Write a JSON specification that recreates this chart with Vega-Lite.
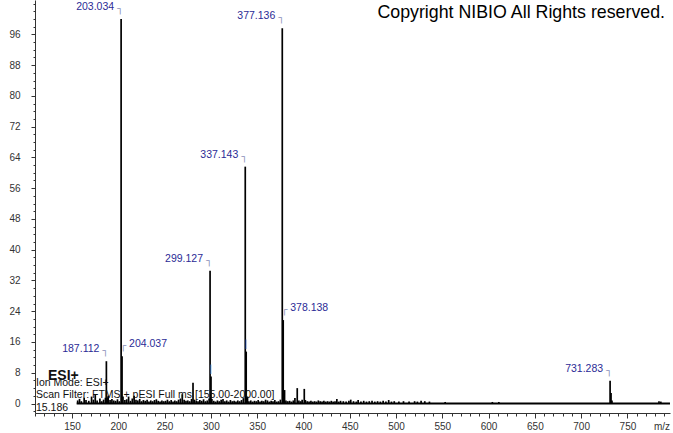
{
  "$schema": "https://vega.github.io/schema/vega-lite/v6.json",
  "width": 635,
  "height": 413,
  "autosize": {"type": "none"},
  "padding": {"left": 35, "top": 0, "right": 3, "bottom": 20},
  "background": "white",
  "config": {"view": {"stroke": null}, "font": "Liberation Sans"},
  "datasets": {
    "peaks": [
      {"mz": 156.1, "intensity": 0.8}, {"mz": 158.1, "intensity": 1.2}, {"mz": 160.1, "intensity": 0.6}, {"mz": 163.1, "intensity": 1.5},
      {"mz": 165.1, "intensity": 0.9}, {"mz": 168.1, "intensity": 0.7}, {"mz": 171.1, "intensity": 1.8}, {"mz": 173.1, "intensity": 1.0},
      {"mz": 175.1, "intensity": 2.2}, {"mz": 177.1, "intensity": 0.8}, {"mz": 180.1, "intensity": 1.3}, {"mz": 182.1, "intensity": 0.6},
      {"mz": 184.1, "intensity": 1.0}, {"mz": 186.1, "intensity": 1.5}, {"mz": 187.112, "intensity": 11.0}, {"mz": 188.1, "intensity": 1.6},
      {"mz": 189.1, "intensity": 2.0}, {"mz": 191.1, "intensity": 0.9}, {"mz": 193.1, "intensity": 1.2}, {"mz": 195.1, "intensity": 0.8},
      {"mz": 197.1, "intensity": 0.7}, {"mz": 199.1, "intensity": 1.1}, {"mz": 201.1, "intensity": 0.6}, {"mz": 203.034, "intensity": 100.0},
      {"mz": 204.037, "intensity": 12.3}, {"mz": 205.04, "intensity": 1.8}, {"mz": 207.1, "intensity": 0.9}, {"mz": 209.1, "intensity": 1.1},
      {"mz": 211.1, "intensity": 1.8}, {"mz": 213.1, "intensity": 0.7}, {"mz": 215.1, "intensity": 1.3}, {"mz": 217.1, "intensity": 2.0},
      {"mz": 219.1, "intensity": 1.0}, {"mz": 221.1, "intensity": 0.8}, {"mz": 223.1, "intensity": 1.2}, {"mz": 225.1, "intensity": 0.6},
      {"mz": 227.1, "intensity": 0.9}, {"mz": 229.1, "intensity": 0.7}, {"mz": 231.1, "intensity": 1.0}, {"mz": 233.1, "intensity": 0.5},
      {"mz": 235.1, "intensity": 0.8}, {"mz": 237.1, "intensity": 0.6}, {"mz": 239.1, "intensity": 0.9}, {"mz": 241.1, "intensity": 1.1},
      {"mz": 243.1, "intensity": 0.7}, {"mz": 245.1, "intensity": 0.5}, {"mz": 247.1, "intensity": 0.8}, {"mz": 249.1, "intensity": 0.6},
      {"mz": 251.1, "intensity": 0.7}, {"mz": 253.1, "intensity": 1.0}, {"mz": 255.1, "intensity": 0.6}, {"mz": 257.1, "intensity": 0.9},
      {"mz": 259.1, "intensity": 0.5}, {"mz": 261.1, "intensity": 0.8}, {"mz": 263.1, "intensity": 0.6}, {"mz": 265.1, "intensity": 1.0},
      {"mz": 267.1, "intensity": 1.3}, {"mz": 269.1, "intensity": 2.4}, {"mz": 271.1, "intensity": 1.0}, {"mz": 273.1, "intensity": 0.7},
      {"mz": 275.1, "intensity": 0.8}, {"mz": 277.1, "intensity": 0.6}, {"mz": 279.1, "intensity": 1.2}, {"mz": 280.7, "intensity": 5.4},
      {"mz": 282.1, "intensity": 1.0}, {"mz": 284.1, "intensity": 0.8}, {"mz": 286.1, "intensity": 0.6}, {"mz": 288.1, "intensity": 0.9},
      {"mz": 290.1, "intensity": 0.7}, {"mz": 292.1, "intensity": 1.1}, {"mz": 294.1, "intensity": 0.6}, {"mz": 296.1, "intensity": 0.8},
      {"mz": 298.1, "intensity": 1.3}, {"mz": 299.127, "intensity": 34.5}, {"mz": 300.13, "intensity": 7.0}, {"mz": 301.1, "intensity": 1.2},
      {"mz": 303.1, "intensity": 0.7}, {"mz": 305.1, "intensity": 0.5}, {"mz": 307.1, "intensity": 0.8}, {"mz": 309.1, "intensity": 0.6},
      {"mz": 311.1, "intensity": 1.0}, {"mz": 313.1, "intensity": 1.2}, {"mz": 315.1, "intensity": 0.6}, {"mz": 317.1, "intensity": 0.8},
      {"mz": 319.1, "intensity": 0.5}, {"mz": 321.1, "intensity": 0.9}, {"mz": 323.1, "intensity": 0.6}, {"mz": 325.1, "intensity": 0.7},
      {"mz": 327.1, "intensity": 0.5}, {"mz": 329.1, "intensity": 0.8}, {"mz": 331.1, "intensity": 0.6}, {"mz": 333.1, "intensity": 0.9},
      {"mz": 335.1, "intensity": 1.4}, {"mz": 337.143, "intensity": 61.6}, {"mz": 338.146, "intensity": 13.5}, {"mz": 339.6, "intensity": 1.8},
      {"mz": 341.1, "intensity": 0.6}, {"mz": 343.1, "intensity": 0.8}, {"mz": 345.1, "intensity": 0.5}, {"mz": 347.1, "intensity": 0.7},
      {"mz": 349.1, "intensity": 0.6}, {"mz": 351.1, "intensity": 0.9}, {"mz": 353.1, "intensity": 0.5}, {"mz": 355.1, "intensity": 0.7},
      {"mz": 357.1, "intensity": 0.6}, {"mz": 359.1, "intensity": 1.0}, {"mz": 361.1, "intensity": 0.8}, {"mz": 363.1, "intensity": 0.5},
      {"mz": 365.1, "intensity": 0.7}, {"mz": 367.1, "intensity": 0.6}, {"mz": 369.1, "intensity": 0.9}, {"mz": 371.1, "intensity": 0.5},
      {"mz": 373.1, "intensity": 0.6}, {"mz": 375.1, "intensity": 1.0}, {"mz": 377.136, "intensity": 97.6}, {"mz": 378.138, "intensity": 21.7},
      {"mz": 379.6, "intensity": 3.5}, {"mz": 381.1, "intensity": 0.8}, {"mz": 383.1, "intensity": 0.6}, {"mz": 385.1, "intensity": 0.7},
      {"mz": 387.1, "intensity": 0.5}, {"mz": 389.1, "intensity": 0.8}, {"mz": 390.8, "intensity": 1.4}, {"mz": 393.3, "intensity": 4.0},
      {"mz": 395.1, "intensity": 0.8}, {"mz": 397.1, "intensity": 0.6}, {"mz": 398.6, "intensity": 1.0}, {"mz": 400.9, "intensity": 3.8},
      {"mz": 402.1, "intensity": 0.9}, {"mz": 404.1, "intensity": 0.6}, {"mz": 406.1, "intensity": 0.5}, {"mz": 408.1, "intensity": 0.7},
      {"mz": 410.1, "intensity": 0.5}, {"mz": 412.1, "intensity": 0.6}, {"mz": 414.1, "intensity": 0.5}, {"mz": 416.1, "intensity": 0.8},
      {"mz": 418.1, "intensity": 0.6}, {"mz": 420.1, "intensity": 0.5}, {"mz": 422.1, "intensity": 0.7}, {"mz": 424.1, "intensity": 0.5},
      {"mz": 426.1, "intensity": 0.6}, {"mz": 428.1, "intensity": 0.5}, {"mz": 430.1, "intensity": 0.7}, {"mz": 432.1, "intensity": 0.5},
      {"mz": 434.1, "intensity": 0.6}, {"mz": 436.1, "intensity": 1.2}, {"mz": 438.1, "intensity": 0.5}, {"mz": 440.1, "intensity": 0.7},
      {"mz": 443.1, "intensity": 0.6}, {"mz": 446.1, "intensity": 0.5}, {"mz": 449.1, "intensity": 0.7}, {"mz": 451.1, "intensity": 1.0},
      {"mz": 454.1, "intensity": 0.6}, {"mz": 457.1, "intensity": 0.5}, {"mz": 459.1, "intensity": 0.9}, {"mz": 462.1, "intensity": 0.5},
      {"mz": 465.1, "intensity": 0.7}, {"mz": 468.1, "intensity": 0.5}, {"mz": 471.1, "intensity": 0.6}, {"mz": 474.1, "intensity": 0.7},
      {"mz": 477.1, "intensity": 0.5}, {"mz": 480.1, "intensity": 0.6}, {"mz": 483.1, "intensity": 0.5}, {"mz": 486.1, "intensity": 0.7},
      {"mz": 489.1, "intensity": 0.5}, {"mz": 492.1, "intensity": 0.9}, {"mz": 495.1, "intensity": 0.5}, {"mz": 498.1, "intensity": 0.6},
      {"mz": 503.1, "intensity": 0.5}, {"mz": 508.1, "intensity": 0.6}, {"mz": 514.1, "intensity": 0.5}, {"mz": 520.1, "intensity": 0.6},
      {"mz": 523.1, "intensity": 0.5}, {"mz": 527.1, "intensity": 0.7}, {"mz": 531.1, "intensity": 0.6}, {"mz": 536.1, "intensity": 0.5},
      {"mz": 553.1, "intensity": 0.4}, {"mz": 604.1, "intensity": 0.4}, {"mz": 611.1, "intensity": 0.4}, {"mz": 731.283, "intensity": 5.9},
      {"mz": 732.29, "intensity": 2.7}, {"mz": 733.3, "intensity": 0.8}, {"mz": 784.1, "intensity": 0.6}, {"mz": 786.1, "intensity": 0.5}
    ],
    "labels": [
      {"mz": 187.112, "intensity": 11.0, "label": "187.112"},
      {"mz": 203.034, "intensity": 100.0, "label": "203.034"},
      {"mz": 204.037, "intensity": 12.3, "label": "204.037"},
      {"mz": 299.127, "intensity": 34.5, "label": "299.127"},
      {"mz": 300.13, "intensity": 7.0, "label": ""},
      {"mz": 337.143, "intensity": 61.6, "label": "337.143"},
      {"mz": 338.146, "intensity": 13.5, "label": ""},
      {"mz": 377.136, "intensity": 97.6, "label": "377.136"},
      {"mz": 378.138, "intensity": 21.7, "label": "378.138"},
      {"mz": 731.283, "intensity": 5.9, "label": "731.283"}
    ]
  },
  "resolve": {"axis": {"x": "independent", "y": "independent"}},
  "layer": [
    {
      "data": {"values": [{"mz": 155, "mz2": 796, "intensity": 0}]},
      "mark": {"type": "rule", "color": "black", "strokeWidth": 2},
      "encoding": {
        "x": {"field": "mz", "type": "quantitative", "scale": {"domain": [110, 796], "nice": false, "zero": false},
              "axis": {"orient": "bottom", "values": [110,120,130,140,160,170,180,190,210,220,230,240,260,270,280,290,310,320,330,340,360,370,380,390,410,420,430,440,460,470,480,490,510,520,530,540,560,570,580,590,610,620,630,640,660,670,680,690,710,720,730,740,760,770,780,790],
                       "labels": false, "domain": false, "grid": false, "tickSize": 3, "tickColor": "#333", "title": null}},
        "x2": {"field": "mz2"},
        "y": {"field": "intensity", "type": "quantitative", "scale": {"domain": [-2.47, 104.94], "nice": false, "zero": false},
              "axis": {"orient": "left", "values": [-2,2,4,6,10,12,14,18,20,22,26,28,30,34,36,38,42,44,46,50,52,54,58,60,62,66,68,70,74,76,78,82,84,86,90,92,94,98,100,102,104],
                       "labels": false, "domain": false, "grid": false, "tickSize": 2, "tickColor": "#333", "title": null}}
      }
    },
    {
      "data": {"name": "peaks"},
      "mark": {"type": "rule", "color": "black", "strokeWidth": 1.7},
      "encoding": {
        "x": {"field": "mz", "type": "quantitative", "scale": {"domain": [110, 796], "nice": false, "zero": false},
              "axis": {"orient": "bottom", "values": [150,200,250,300,350,400,450,500,550,600,650,700,750],
                       "format": "d", "grid": false, "tickSize": 5, "tickColor": "#333", "domainColor": "#333",
                       "labelFontSize": 10, "labelColor": "#333", "labelPadding": 3, "labelFont": "Liberation Sans", "title": null}},
        "y": {"field": "intensity", "type": "quantitative", "scale": {"domain": [-2.47, 104.94], "nice": false, "zero": false},
              "axis": {"orient": "left", "values": [0,8,16,24,32,40,48,56,64,72,80,88,96],
                       "format": "d", "grid": false, "tickSize": 4, "tickColor": "#333", "domainColor": "#333",
                       "labelFontSize": 10, "labelColor": "#333", "labelPadding": 11, "labelFont": "Liberation Sans", "title": null}},
        "y2": {"datum": 0}
      }
    },
    {
      "data": {"name": "labels"},
      "transform": [{"filter": "datum.label != '' && datum.label != '204.037' && datum.label != '378.138'"}],
      "mark": {"type": "text", "align": "right", "baseline": "middle", "dx": -7, "dy": -12, "fontSize": 10.5, "color": "#2b2b96", "font": "Liberation Sans"},
      "encoding": {
        "x": {"field": "mz", "type": "quantitative", "scale": {"domain": [110, 796], "nice": false, "zero": false}, "axis": null},
        "y": {"field": "intensity", "type": "quantitative", "scale": {"domain": [-2.47, 104.94], "nice": false, "zero": false}, "axis": null},
        "text": {"field": "label", "type": "nominal"}
      }
    },
    {
      "data": {"name": "labels"},
      "transform": [{"filter": "datum.label == '204.037' || datum.label == '378.138'"}],
      "mark": {"type": "text", "align": "left", "baseline": "middle", "dx": 7, "dy": -12, "fontSize": 10.5, "color": "#2b2b96", "font": "Liberation Sans"},
      "encoding": {
        "x": {"field": "mz", "type": "quantitative", "scale": {"domain": [110, 796], "nice": false, "zero": false}, "axis": null},
        "y": {"field": "intensity", "type": "quantitative", "scale": {"domain": [-2.47, 104.94], "nice": false, "zero": false}, "axis": null},
        "text": {"field": "label", "type": "nominal"}
      }
    },
    {
      "data": {"name": "labels"},
      "transform": [{"filter": "datum.label != '' && datum.label != '204.037' && datum.label != '378.138'"}],
      "mark": {"type": "text", "align": "right", "baseline": "middle", "dx": 2, "dy": -10, "fontSize": 10, "color": "#8a8fb8", "font": "DejaVu Sans", "text": "┐"},
      "encoding": {
        "x": {"field": "mz", "type": "quantitative", "scale": {"domain": [110, 796], "nice": false, "zero": false}, "axis": null},
        "y": {"field": "intensity", "type": "quantitative", "scale": {"domain": [-2.47, 104.94], "nice": false, "zero": false}, "axis": null}
      }
    },
    {
      "data": {"name": "labels"},
      "transform": [{"filter": "datum.label == '204.037' || datum.label == '378.138'"}],
      "mark": {"type": "text", "align": "left", "baseline": "middle", "dx": -2, "dy": -10, "fontSize": 10, "color": "#8a8fb8", "font": "DejaVu Sans", "text": "┌"},
      "encoding": {
        "x": {"field": "mz", "type": "quantitative", "scale": {"domain": [110, 796], "nice": false, "zero": false}, "axis": null},
        "y": {"field": "intensity", "type": "quantitative", "scale": {"domain": [-2.47, 104.94], "nice": false, "zero": false}, "axis": null}
      }
    },
    {
      "data": {"name": "labels"},
      "transform": [{"filter": "datum.label == ''"}],
      "mark": {"type": "text", "align": "center", "baseline": "middle", "dy": -7, "fontSize": 8, "color": "#8a8fb8", "font": "DejaVu Sans", "text": "│"},
      "encoding": {
        "x": {"field": "mz", "type": "quantitative", "scale": {"domain": [110, 796], "nice": false, "zero": false}, "axis": null},
        "y": {"field": "intensity", "type": "quantitative", "scale": {"domain": [-2.47, 104.94], "nice": false, "zero": false}, "axis": null}
      }
    },
    {
      "data": {"values": [{"mz": 790.6, "intensity": 101.6, "text": "Copyright NIBIO All Rights reserved."}]},
      "mark": {"type": "text", "align": "right", "baseline": "middle", "fontSize": 17.8, "color": "black", "font": "Liberation Sans"},
      "encoding": {
        "x": {"field": "mz", "type": "quantitative", "scale": {"domain": [110, 796], "nice": false, "zero": false}, "axis": null},
        "y": {"field": "intensity", "type": "quantitative", "scale": {"domain": [-2.47, 104.94], "nice": false, "zero": false}, "axis": null},
        "text": {"field": "text", "type": "nominal"}
      }
    },
    {
      "data": {"values": [{"mz": 124.0, "intensity": 7.15, "text": "ESI+"}]},
      "mark": {"type": "text", "align": "left", "baseline": "middle", "fontSize": 14, "fontWeight": "bold", "color": "#111", "font": "Liberation Sans"},
      "encoding": {
        "x": {"field": "mz", "type": "quantitative", "scale": {"domain": [110, 796], "nice": false, "zero": false}, "axis": null},
        "y": {"field": "intensity", "type": "quantitative", "scale": {"domain": [-2.47, 104.94], "nice": false, "zero": false}, "axis": null},
        "text": {"field": "text", "type": "nominal"}
      }
    },
    {
      "data": {"values": [
        {"mz": 111.1, "intensity": 5.33, "text": "Ion Mode: ESI+"},
        {"mz": 111.1, "intensity": 2.21, "text": "Scan Filter: FTMS + pESI Full ms [155.00-2000.00]"},
        {"mz": 111.1, "intensity": -1.17, "text": "15.186"}
      ]},
      "mark": {"type": "text", "align": "left", "baseline": "middle", "fontSize": 10.5, "color": "#111", "font": "Liberation Sans"},
      "encoding": {
        "x": {"field": "mz", "type": "quantitative", "scale": {"domain": [110, 796], "nice": false, "zero": false}, "axis": null},
        "y": {"field": "intensity", "type": "quantitative", "scale": {"domain": [-2.47, 104.94], "nice": false, "zero": false}, "axis": null},
        "text": {"field": "text", "type": "nominal"}
      }
    },
    {
      "data": {"values": [{"mz": 787.3, "intensity": -6.11, "text": "m/z"}]},
      "mark": {"type": "text", "align": "center", "baseline": "middle", "fontSize": 10, "color": "#333", "font": "Liberation Sans"},
      "encoding": {
        "x": {"field": "mz", "type": "quantitative", "scale": {"domain": [110, 796], "nice": false, "zero": false}, "axis": null},
        "y": {"field": "intensity", "type": "quantitative", "scale": {"domain": [-2.47, 104.94], "nice": false, "zero": false}, "axis": null},
        "text": {"field": "text", "type": "nominal"}
      }
    }
  ]
}
